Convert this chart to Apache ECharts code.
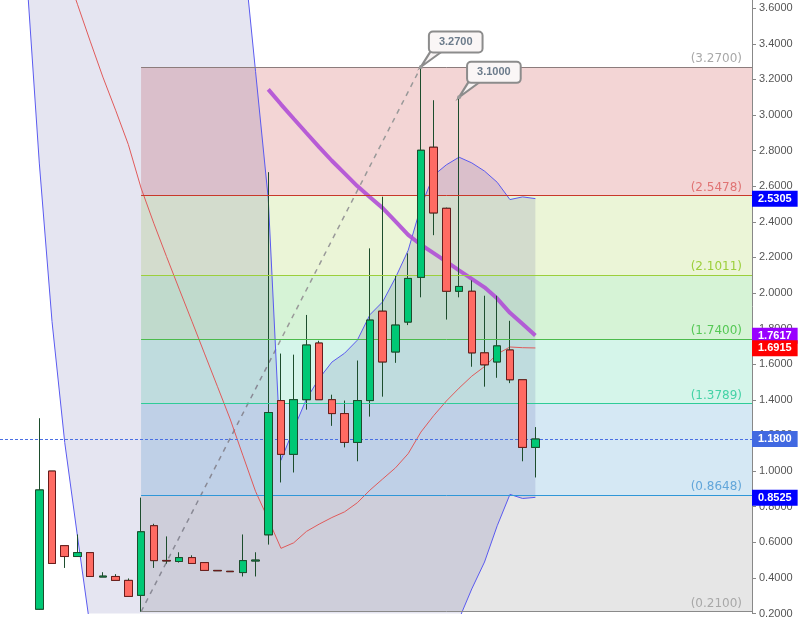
<!DOCTYPE html>
<html><head><meta charset="utf-8">
<script src="https://cdn.jsdelivr.net/npm/echarts@6/dist/echarts.min.js"></script>
<style>html,body{margin:0;padding:0;background:#fff}#c{width:809px;height:619px}</style>
</head><body><div id="c"></div>
<script>
// ---- data ----
const candleIndex = [0,1,2,3,4,5,6,7,8,9,10,11,12,13,14,15,16,17,18,19,20,21,22,23,24,25,26,27,28,29,30,31,32,33,34,35,36,37,38,39];
const open  = [0.224,1.000,0.581,0.520,0.542,0.405,0.408,0.386,0.302,0.693,0.498,0.492,0.514,0.486,0.442,0.437,0.430,0.495,0.642,1.396,1.094,1.401,1.719,1.401,1.323,1.161,1.396,1.898,1.669,1.837,2.088,2.819,2.476,2.010,2.010,1.664,1.613,1.680,1.513,1.133];
const close = [0.894,0.481,0.520,0.542,0.408,0.410,0.386,0.296,0.659,0.497,0.495,0.514,0.481,0.442,0.440,0.435,0.497,0.500,1.329,1.094,1.401,1.708,1.401,1.323,1.161,1.396,1.848,1.613,1.820,2.082,2.802,2.450,2.010,2.037,1.664,1.597,1.703,1.513,1.133,1.180];
const low   = [0.220,0.480,0.456,0.520,0.405,0.405,0.386,0.296,0.210,0.456,0.480,0.486,0.481,0.442,0.440,0.435,0.408,0.408,0.587,0.936,0.992,1.345,1.400,1.254,1.133,1.055,1.306,1.418,1.608,1.820,1.976,2.325,1.851,1.976,1.586,1.474,1.524,1.494,1.055,0.964];
const high  = [1.297,1.000,0.581,0.644,0.542,0.432,0.421,0.397,0.851,0.704,0.633,0.544,0.527,0.486,0.442,0.437,0.644,0.544,2.679,1.660,1.654,1.877,1.732,1.429,1.396,1.621,2.251,2.541,2.099,2.223,3.270,3.083,2.480,3.100,2.071,1.985,1.985,1.844,1.513,1.247];

const bandIndex = [-1,0,1,2,3,4,5,6,7,8,9,10,11,12,13,14,15,16,17,18,19,20,21,22,23,24,25,26,27,28,29,30,31,32,33,34,35,36,37,38,39];
const upperBand  = [5.60,5.75,6.20,6.50,6.61,6.71,6.80,6.80,6.77,6.60,6.40,6.20,5.85,5.50,5.10,4.70,4.35,3.96,3.245,2.530,1.061,1.236,1.405,1.520,1.612,1.662,1.735,1.879,1.951,2.086,2.240,2.486,2.661,2.720,2.763,2.731,2.685,2.622,2.525,2.540,2.5305];
const middleBand = [4.45,4.24,4.03,3.83,3.622,3.415,3.213,3.027,2.834,2.590,2.392,2.205,2.022,1.841,1.658,1.476,1.293,1.089,0.886,0.7295,0.566,0.597,0.661,0.702,0.739,0.771,0.822,0.8935,0.956,1.018,1.098,1.219,1.311,1.3935,1.466,1.533,1.587,1.6575,1.697,1.693,1.6915];
const lowerBand  = [3.79,2.73,1.84,1.16,0.634,0.12,-0.37,-0.75,-1.10,-1.42,-1.62,-1.79,-1.81,-1.82,-1.78,-1.75,-1.76,-1.78,-1.47,-1.07,0.071,-0.04,-0.08,-0.12,-0.13,-0.12,-0.09,-0.09,-0.04,-0.05,-0.04,-0.05,-0.04,0.067,0.169,0.338,0.489,0.693,0.869,0.846,0.8525];

const maIndex  = [18,19,20,21,22,23,24,25,26,27,28,29,30,31,32,33,34,35,36,37,38,39];
const maValues = [3.144,3.060,2.979,2.899,2.820,2.743,2.672,2.601,2.538,2.477,2.402,2.327,2.271,2.224,2.176,2.127,2.080,2.032,1.969,1.889,1.826,1.7617];

const fibLevels = [3.27, 2.5478, 2.1011, 1.74, 1.3789, 0.8648, 0.21];
const fibStartIndex = 8;
const fibSwing = [[8, 0.21], [30, 3.27]];
const lastPrice = 1.18;
const callouts = [[30, 3.27], [33, 3.10]];

const yTickMin = 0.2, yTickStep = 0.2;

// ---- styles ----
const fibLineColors  = ['#8c7c7c','#c8382a','#9ccf3c','#4cbb4c','#2fcc98','#2f97d8','#8a8a8a'];
const fibLabelColors = ['#a8a8a8','#e07474','#9ccf3c','#55c855','#44d2a6','#62a6da','#a8a8a8'];
const fibZoneColors  = ['#f3d5d5','#ebf5d7','#d6f3d6','#d5f5ea','#d5e8f4','#e6e6e6'];

const X_MIN = -3.09, X_MAX = 56.03, Y_MAX = 3.646;

const chart = echarts.init(document.getElementById('c'));

const fibAreas = [];
for (let i = 0; i < fibLevels.length - 1; i++) {
  fibAreas.push([{coord:[fibStartIndex, fibLevels[i]], itemStyle:{color:fibZoneColors[i]}},
                 {coord:[X_MAX, fibLevels[i+1]]}]);
}
const fibLines = fibLevels.map((lv, i) => [
  {coord:[fibStartIndex, lv], lineStyle:{color:fibLineColors[i], width:1, type:'solid'},
   label:{show:true, position:'insideEndTop', formatter:'(' + lv.toFixed(4) + ')', color:fibLabelColors[i],
          fontSize:12, fontFamily:'DejaVu Sans', distance:[10,2]}},
  {coord:[X_MAX, lv]}
]);

function tag(value, bg, showLine) {
  return {
    yAxis: value,
    lineStyle: showLine ? {color:'#4a6fe3', width:1, type:[3,2]} : {color:'rgba(0,0,0,0)', width:1},
    label: {show:true, position:'end', distance:0, formatter: value.toFixed(4),
            backgroundColor:bg, color:'#fff', fontWeight:'bold', fontSize:11,
            fontFamily:'Liberation Sans, Arial', padding:[2,6,2,6], lineHeight:12}
  };
}

const candleData = candleIndex.map((x, i) => [x, open[i], close[i], low[i], high[i]]);
const bodyData = candleIndex.map((x, i) => [x, open[i], close[i], Math.min(open[i], close[i]), Math.max(open[i], close[i])]);
const bandData = bandIndex.map((x, i) => [x, lowerBand[i], upperBand[i]]);

chart.setOption({
  animation: false,
  grid: {left:0, right:57, top:0, bottom:1.5},
  xAxis: {type:'value', min:X_MIN, max:X_MAX, show:false, axisLine:{onZero:false}},
  yAxis: {
    type:'value', position:'right', min:yTickMin, max:Y_MAX, interval:yTickStep,
    axisLine:{show:true, onZero:false, lineStyle:{color:'#888'}},
    axisTick:{show:true, length:4, lineStyle:{color:'#888'}},
    axisLabel:{formatter: v => v.toFixed(4), color:'#555', fontSize:11, fontFamily:'Liberation Sans, Arial', margin:7, showMaxLabel:false},
    splitLine:{show:false}
  },
  series: [
    {
      type:'line', name:'fib', z:1, data: fibSwing, symbol:'none', silent:true,
      lineStyle:{color:'#999', width:1.5, type:[5,5]},
      markArea:{silent:true, data: fibAreas},
      markLine:{silent:true, symbol:['none','none'], data: fibLines}
    },
    {
      type:'custom', name:'bandFill', z:2, silent:true, data: bandData,
      encode:{x:0, y:[1,2]},
      renderItem: (params, api) => {
        if (params.dataIndex !== 0) return null;
        const pts = [];
        for (let i = 0; i < bandData.length; i++) pts.push(api.coord([bandData[i][0], bandData[i][2]]));
        for (let i = bandData.length - 1; i >= 0; i--) pts.push(api.coord([bandData[i][0], bandData[i][1]]));
        const cs = params.coordSys;
        return {type:'polygon', shape:{points:pts}, style:{fill:'rgba(0,0,120,0.10)'},
                clipPath:{type:'rect', shape:{x:cs.x, y:cs.y, width:cs.width, height:cs.height}}};
      }
    },
    {
      type:'line', name:'lower', z:2, symbol:'none',
      data: bandIndex.map((x, i) => [x, lowerBand[i]]),
      lineStyle:{color:'#5a5af0', width:1}
    },
    {
      type:'line', name:'upper', z:2, symbol:'none',
      data: bandIndex.map((x, i) => [x, upperBand[i]]),
      lineStyle:{color:'#5a5af0', width:1}
    },
    {
      type:'line', name:'middle', z:2, symbol:'none',
      data: bandIndex.map((x, i) => [x, middleBand[i]]),
      lineStyle:{color:'#e05a5a', width:1}
    },
    {
      type:'line', name:'ma', z:3, symbol:'none',
      data: maIndex.map((x, i) => [x, maValues[i]]),
      lineStyle:{color:'#b04fd6', width:4, opacity:0.9}
    },
    {
      type:'candlestick', name:'wicks', z:4, barWidth:8, data: candleData,
      itemStyle:{color:'#00c875', color0:'#ff6b63', borderColor:'#1d4d2d', borderColor0:'#1d4d2d', borderWidth:1},
      markPoint:{
        data: callouts.flatMap(c => [
          {coord:c, value:c[1].toFixed(4), symbol:'path://M0,16 L10,0 L22,0 Z', symbolSize:[22,16], symbolOffset:[11,-8],
           itemStyle:{color:'#f8f4f4', borderColor:'#8c8c8c', borderWidth:2},
           label:{show:true, position:[36,-8], align:'center', verticalAlign:'middle',
                  backgroundColor:'#faf6f6', borderColor:'#8c8c8c', borderWidth:2, borderRadius:3,
                  padding:[4,9], color:'#6b7b8b', fontSize:11, fontWeight:'bold', fontFamily:'Liberation Sans, Arial',
                  formatter: p => p.value}},
          {coord:c, symbol:'circle', symbolSize:4, itemStyle:{color:'#999'}, label:{show:false}}
        ])
      }
    },
    {
      type:'candlestick', name:'bodies', z:5, barWidth:8, data: bodyData,
      itemStyle:{color:'#00c875', color0:'#ff6b63', borderColor:'#1d4d2d', borderColor0:'#6a1c1c', borderWidth:1}
    },
    {
      type:'line', name:'tags', z:10, data:[], symbol:'none',
      markLine:{silent:true, symbol:['none','none'], data:[
        tag(upperBand[upperBand.length-1], '#0000ff', false),
        tag(maValues[maValues.length-1], '#9900ff', false),
        tag(middleBand[middleBand.length-1], '#ff0000', false),
        tag(lastPrice, '#4169e1', true),
        tag(lowerBand[lowerBand.length-1], '#0000ff', false)
      ]}
    }
  ]
});
</script></body></html>
